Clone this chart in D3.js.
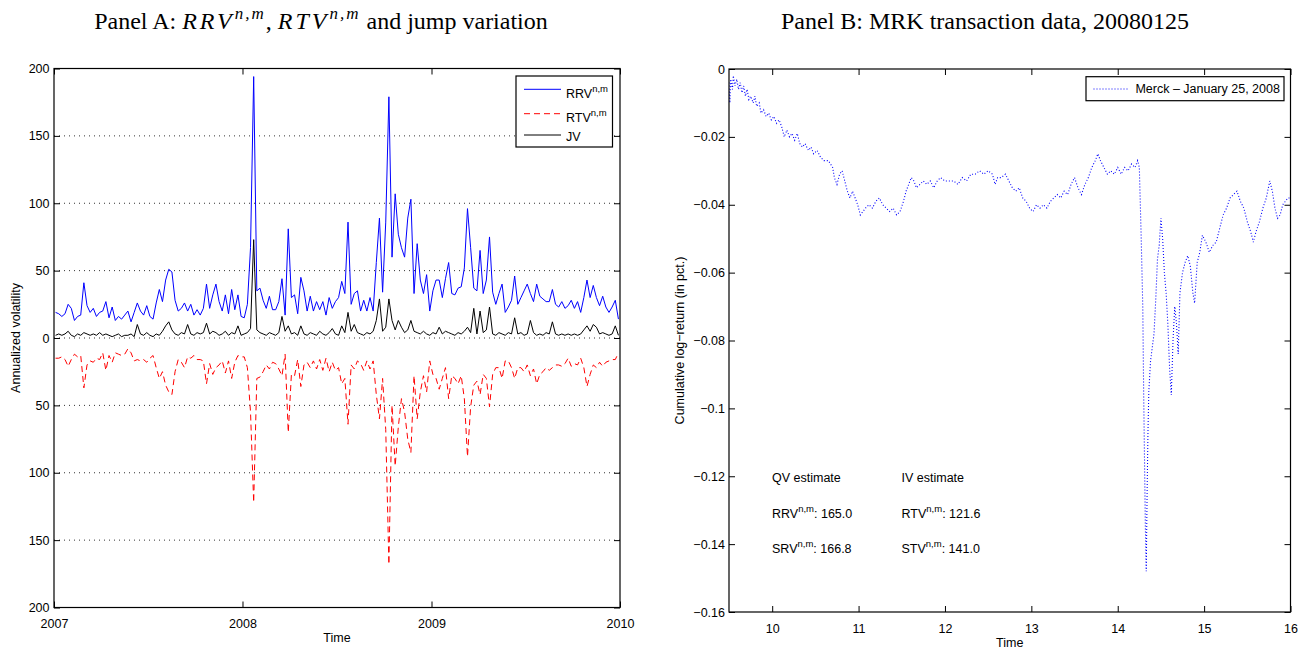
<!DOCTYPE html>
<html><head><meta charset="utf-8">
<script src="https://cdn.jsdelivr.net/npm/d3@7"></script>
<style>
html,body{margin:0;padding:0;background:#fff;}
svg{display:block;}
.sans{font-family:"Liberation Sans",Arial,Helvetica,sans-serif;}
</style></head><body>
<svg id="chart" width="1307" height="656"></svg>
<script>
// ---------- Panel A data (samples evenly spaced over 2007-2009) ----------
const rrv = [19,18,16,18,25,22,13,16,17,41,
 24,19,22,16,19,20,27,15,23,13,
 16,14,17,20,12,19,26,20,17,24,
 16,14,26,36,27,43,51,49,28,20,
 22,26,20,25,17,21,17,22,40,22,
 32,40,27,20,32,18,36,21,32,16,
 15,25,67,194,35,37,28,22,31,21,
 21,27,44,17,81,30,32,18,45,35,
 20,31,20,27,21,27,17,30,22,27,
 30,42,33,86,25,33,35,20,28,20,
 30,20,56,89,34,86,179,60,107,77,
 67,60,89,103,33,70,43,33,47,20,
 35,43,43,30,44,56,33,32,37,38,
 52,96,67,37,35,65,33,43,75,34,
 25,33,40,19,23,28,46,25,30,35,
 40,33,27,40,31,29,27,27,36,25,
 23,27,22,24,28,22,27,19,30,43,
 30,39,30,24,31,23,19,23,28,14];
const rtv = [15,15,14,16,21,16,12,14,13,37,
 20,17,18,15,16,11,24,13,18,11,
 12,13,12,8,11,17,16,17,16,18,
 15,13,22,30,25,35,40,42,25,16,
 18,22,14,15,13,16,16,17,34,19,
 27,22,20,17,26,17,30,18,13,14,
 14,22,55,122,30,29,25,20,23,18,
 19,23,28,12,70,27,28,16,36,20,
 18,22,17,23,16,24,15,25,18,24,
 22,34,30,64,20,23,17,19,24,17,
 23,17,42,60,30,68,168,50,95,66,
 45,55,75,85,28,60,40,28,40,17,
 27,30,38,30,22,45,28,30,34,28,
 45,88,51,35,32,42,27,30,51,27,
 22,22,30,17,17,22,30,22,22,25,
 20,28,23,34,27,25,22,24,22,20,
 20,21,19,15,21,19,20,15,22,36,
 27,20,22,18,21,18,17,16,16,11];
const jv = [2,3,2,3,5,2,1,3,2,4,
 3,2,3,2,4,2,3,2,1,2,
 3,1,2,2,3,1,10,3,2,4,
 2,1,3,2,5,9,12,6,3,2,
 4,3,10,3,2,4,3,4,11,3,
 5,4,2,3,5,2,4,3,9,2,
 3,4,7,73,6,4,3,2,4,3,
 2,4,16,5,9,3,4,2,9,3,
 2,4,3,2,5,3,2,4,7,3,
 2,9,4,19,5,10,4,3,2,4,
 3,5,13,29,5,8,29,13,6,13,
 8,4,6,13,5,4,3,5,3,2,
 4,3,8,3,5,4,3,2,4,3,
 5,8,4,22,3,20,4,6,23,3,
 2,4,3,2,4,3,15,3,4,2,
 3,13,4,2,3,2,4,3,12,3,
 2,3,2,3,2,3,2,3,6,9,
 5,10,8,3,4,3,2,3,9,2];
const yearTicks = [2007, 2008, 2009, 2010];
const volTicks = [200, 150, 100, 50, 0, -50, -100, -150, -200];
const volGrid = [150, 100, 50, 0, -50, -100, -150];

// ---------- Panel B data ----------
const pbTime = [9.50,9.51,9.52,9.54,9.55,9.57,9.59,9.61,9.63,9.65,9.67,9.69,9.71,9.73,9.75,9.78,9.80,9.82,9.85,9.87,
 9.90,9.93,9.96,9.99,10.02,10.05,10.08,10.11,10.14,10.17,10.20,10.23,10.26,10.29,10.32,10.35,10.38,10.42,10.45,10.48,
 10.52,10.56,10.60,10.65,10.70,10.72,10.75,10.78,10.81,10.84,10.87,10.90,10.93,10.96,10.99,11.02,11.05,11.08,11.12,11.16,
 11.20,11.24,11.28,11.32,11.36,11.40,11.44,11.48,11.52,11.55,11.58,11.61,11.64,11.67,11.71,11.75,11.79,11.83,11.87,11.91,
 11.95,12.00,12.05,12.10,12.15,12.20,12.25,12.30,12.35,12.40,12.45,12.50,12.55,12.58,12.61,12.65,12.70,12.74,12.78,12.82,
 12.86,12.90,12.94,12.98,13.02,13.06,13.10,13.14,13.18,13.22,13.26,13.30,13.34,13.38,13.42,13.46,13.50,13.54,13.58,13.62,
 13.66,13.70,13.74,13.77,13.80,13.84,13.88,13.92,13.96,14.00,14.04,14.08,14.12,14.16,14.20,14.23,14.25,14.27,14.29,14.30,
 14.31,14.32,14.33,14.34,14.35,14.36,14.38,14.40,14.42,14.44,14.46,14.48,14.50,14.52,14.54,14.56,14.58,14.60,14.62,14.64,
 14.66,14.68,14.70,14.72,14.75,14.78,14.81,14.84,14.87,14.89,14.92,14.95,14.98,15.02,15.06,15.10,15.14,15.18,15.22,15.26,
 15.30,15.34,15.38,15.42,15.46,15.50,15.54,15.57,15.60,15.64,15.68,15.72,15.76,15.79,15.82,15.85,15.88,15.91,15.94,15.97,16.00];
const pbReturn = [-0.004,-0.010,-0.003,-0.006,-0.002,-0.005,-0.003,-0.006,-0.004,-0.007,-0.005,-0.008,-0.006,-0.009,-0.008,-0.010,-0.008,-0.011,-0.010,-0.013,
 -0.012,-0.014,-0.013,-0.015,-0.014,-0.016,-0.015,-0.017,-0.020,-0.018,-0.020,-0.019,-0.021,-0.019,-0.022,-0.023,-0.022,-0.024,-0.023,-0.025,
 -0.024,-0.026,-0.027,-0.027,-0.029,-0.032,-0.034,-0.031,-0.030,-0.033,-0.036,-0.038,-0.036,-0.038,-0.040,-0.043,-0.042,-0.041,-0.040,-0.041,
 -0.039,-0.038,-0.040,-0.041,-0.042,-0.041,-0.043,-0.042,-0.039,-0.036,-0.034,-0.032,-0.033,-0.035,-0.034,-0.033,-0.034,-0.033,-0.035,-0.033,
 -0.032,-0.033,-0.033,-0.033,-0.034,-0.032,-0.033,-0.031,-0.031,-0.030,-0.031,-0.030,-0.031,-0.034,-0.032,-0.032,-0.031,-0.033,-0.035,-0.036,
 -0.035,-0.038,-0.039,-0.041,-0.042,-0.040,-0.041,-0.040,-0.041,-0.039,-0.038,-0.037,-0.038,-0.036,-0.037,-0.034,-0.032,-0.035,-0.037,-0.034,
 -0.032,-0.029,-0.027,-0.025,-0.027,-0.029,-0.031,-0.030,-0.031,-0.029,-0.031,-0.029,-0.030,-0.028,-0.029,-0.027,-0.029,-0.048,-0.070,-0.095,
 -0.115,-0.135,-0.148,-0.125,-0.107,-0.095,-0.086,-0.082,-0.078,-0.068,-0.056,-0.052,-0.044,-0.050,-0.060,-0.066,-0.075,-0.088,-0.096,-0.080,
 -0.070,-0.075,-0.084,-0.066,-0.060,-0.057,-0.055,-0.058,-0.066,-0.069,-0.057,-0.054,-0.049,-0.051,-0.054,-0.052,-0.051,-0.047,-0.043,-0.041,
 -0.038,-0.037,-0.036,-0.039,-0.041,-0.045,-0.048,-0.051,-0.048,-0.045,-0.041,-0.038,-0.033,-0.036,-0.041,-0.044,-0.043,-0.040,-0.039,-0.038,-0.038];
const pbXTicks = [10, 11, 12, 13, 14, 15, 16];
const pbYTicks = [0, -0.02, -0.04, -0.06, -0.08, -0.1, -0.12, -0.14, -0.16];

const svg = d3.select("#chart");
svg.append("rect").attr("width",1307).attr("height",656).attr("fill","#fff");
const FS = 12.5;
const TICK = 6;

// ================= PANEL A =================
(function(){
  const L=54, R=620, T=68.5, B=607.5;
  const start = new Date(2007,0,1), end = new Date(2010,0,1);
  const frac = d3.scaleLinear().domain([0, rrv.length]).range([+start, +end]);
  const dates = rrv.map((_, i) => new Date(frac(i + 0.5)));
  const x = d3.scaleTime().domain([start, end]).range([L, R]);
  const y = d3.scaleLinear().domain([-200, 200]).range([B, T]);
  const g = svg.append("g").attr("class","sans");

  // grid
  g.selectAll("line.grid").data(volGrid).join("line")
    .attr("x1",L).attr("x2",R).attr("y1",d=>y(d)).attr("y2",d=>y(d))
    .attr("stroke","#333").attr("stroke-width",1).attr("stroke-dasharray","1,4");

  svg.append("clipPath").attr("id","clipA").append("rect")
    .attr("x",L).attr("y",T).attr("width",R-L).attr("height",B-T);
  const plot = g.append("g").attr("clip-path","url(#clipA)");
  const line = d3.line().x((d,i)=>x(dates[i])).y(d=>y(d));
  plot.append("path").datum(rrv).attr("d",line).attr("fill","none").attr("stroke","#0000ff").attr("stroke-width",1);
  plot.append("path").datum(rtv.map(v=>-v)).attr("d",line).attr("fill","none").attr("stroke","#ff0000").attr("stroke-width",1).attr("stroke-dasharray","6,4");
  plot.append("path").datum(jv).attr("d",line).attr("fill","none").attr("stroke","#000").attr("stroke-width",1);

  // axes
  const yearDates = yearTicks.map(yr => new Date(yr,0,1));
  const axL = d3.axisLeft(y).tickValues(volTicks).tickSize(-TICK).tickPadding(4.5).tickFormat(d=>Math.abs(d));
  const axR = d3.axisRight(y).tickValues(volTicks).tickSize(-TICK).tickFormat("");
  const axB = d3.axisBottom(x).tickValues(yearDates).tickSize(-TICK).tickPadding(12).tickFormat(d3.timeFormat("%Y"));
  const axT = d3.axisTop(x).tickValues(yearDates).tickSize(-TICK).tickFormat("");
  [[axL,`translate(${L},0)`],[axR,`translate(${R},0)`],[axB,`translate(0,${B})`],[axT,`translate(0,${T})`]].forEach(([a,t])=>{
    const ag = g.append("g").attr("transform",t).call(a);
    ag.select(".domain").remove();
    ag.selectAll("line").attr("stroke","#000");
    ag.selectAll("text").attr("fill","#000").style("font-size",FS+"px").style("font-family",'"Liberation Sans",Arial,sans-serif');
  });
  g.append("rect").attr("x",L).attr("y",T).attr("width",R-L).attr("height",B-T)
    .attr("fill","none").attr("stroke","#000").attr("stroke-width",1.2);

  // labels
  g.append("text").attr("x",(L+R)/2).attr("y",B+34.5).attr("text-anchor","middle").style("font-size",FS+"px").text("Time");
  g.append("text").attr("transform",`translate(19.5,${(T+B)/2}) rotate(-90)`).attr("text-anchor","middle").style("font-size",FS+"px").text("Annualized volatility");

  // legend
  const lg = g.append("g");
  lg.append("rect").attr("x",516).attr("y",76).attr("width",96.5).attr("height",71)
    .attr("fill","#fff").attr("stroke","#000").attr("stroke-width",1.2);
  const items = [
    {name:"RRV", sup:"n,m", color:"#0000ff", dash:null, ly:89.3, ty:97.5},
    {name:"RTV", sup:"n,m", color:"#ff0000", dash:"6,4", ly:113.7, ty:122},
    {name:"JV", sup:null, color:"#000", dash:null, ly:135, ty:140.5}
  ];
  items.forEach(it=>{
    lg.append("line").attr("x1",524).attr("x2",561).attr("y1",it.ly).attr("y2",it.ly)
      .attr("stroke",it.color).attr("stroke-width",1).attr("stroke-dasharray",it.dash);
    const t = lg.append("text").attr("x",566).attr("y",it.ty).style("font-size",FS+"px");
    t.append("tspan").text(it.name);
    if(it.sup) t.append("tspan").attr("dy",-6).style("font-size","9.5px").text(it.sup);
  });
})();

// ================= PANEL B =================
(function(){
  const L=729, R=1290.5, T=69, B=612;
  const x = d3.scaleLinear().domain([9.5,16]).range([L,R]);
  const y = d3.scaleLinear().domain([-0.16,0]).range([B,T]);
  const g = svg.append("g").attr("class","sans");
  svg.append("clipPath").attr("id","clipB").append("rect")
    .attr("x",L).attr("y",T).attr("width",R-L).attr("height",B-T);
  const line = d3.line().x((d,i)=>x(pbTime[i])).y(d=>y(d));
  g.append("g").attr("clip-path","url(#clipB)").append("path").datum(pbReturn).attr("d",line)
    .attr("fill","none").attr("stroke","#0000ff").attr("stroke-width",1.1).attr("stroke-dasharray","1,2");

  const axL = d3.axisLeft(y).tickValues(pbYTicks).tickSize(-TICK).tickPadding(4).tickFormat(d=> d===0 ? "0" : "\u2212"+d3.format("~g")(Math.abs(d)));
  const axR = d3.axisRight(y).tickValues(pbYTicks).tickSize(-TICK).tickFormat("");
  const axB = d3.axisBottom(x).tickValues(pbXTicks).tickSize(-TICK).tickPadding(12).tickFormat(d3.format("d"));
  const axT = d3.axisTop(x).tickValues(pbXTicks).tickSize(-TICK).tickFormat("");
  [[axL,`translate(${L},0)`],[axR,`translate(${R},0)`],[axB,`translate(0,${B})`],[axT,`translate(0,${T})`]].forEach(([a,t])=>{
    const ag = g.append("g").attr("transform",t).call(a);
    ag.select(".domain").remove();
    ag.selectAll("line").attr("stroke","#000");
    ag.selectAll("text").attr("fill","#000").style("font-size",FS+"px").style("font-family",'"Liberation Sans",Arial,sans-serif');
  });
  g.append("rect").attr("x",L).attr("y",T).attr("width",R-L).attr("height",B-T)
    .attr("fill","none").attr("stroke","#000").attr("stroke-width",1.2);

  g.append("text").attr("x",(L+R)/2).attr("y",B+35).attr("text-anchor","middle").style("font-size",FS+"px").text("Time");
  g.append("text").attr("transform",`translate(684,${(T+B)/2}) rotate(-90)`).attr("text-anchor","middle").style("font-size",FS+"px").text("Cumulative log\u2212return (in pct.)");

  // legend
  g.append("rect").attr("x",1086).attr("y",76.7).attr("width",198).attr("height",24)
    .attr("fill","#fff").attr("stroke","#000").attr("stroke-width",1.2);
  g.append("line").attr("x1",1093.5).attr("x2",1129).attr("y1",89).attr("y2",89)
    .attr("stroke","#0000ff").attr("stroke-width",1).attr("stroke-dasharray","1,2");
  g.append("text").attr("x",1135.4).attr("y",93).style("font-size",FS+"px").text("Merck \u2013 January 25, 2008");

  // annotations
  const ann = [
    {x:772, y:481.5, name:"QV estimate", sup:null, rest:""},
    {x:901.5, y:481.5, name:"IV estimate", sup:null, rest:""},
    {x:772, y:518, name:"RRV", sup:"n,m", rest:": 165.0"},
    {x:901.5, y:518, name:"RTV", sup:"n,m", rest:": 121.6"},
    {x:772, y:552.5, name:"SRV", sup:"n,m", rest:": 166.8"},
    {x:901.5, y:552.5, name:"STV", sup:"n,m", rest:": 141.0"}
  ];
  ann.forEach(a=>{
    const t = g.append("text").attr("x",a.x).attr("y",a.y).style("font-size",FS+"px");
    t.append("tspan").text(a.name);
    if(a.sup){
      t.append("tspan").attr("dy",-6).style("font-size","9.5px").text(a.sup);
      t.append("tspan").attr("dy",6).text(a.rest);
    }
  });
})();

// ================= TITLES =================
const serif = '"Liberation Serif","Times New Roman",Times,serif';
const tA = svg.append("text").attr("x",321).attr("y",29).attr("text-anchor","middle")
  .style("font-family",serif).style("font-size","24px");
tA.append("tspan").text("Panel A: ");
tA.append("tspan").style("font-style","italic").style("letter-spacing","3px").text("RRV");
tA.append("tspan").attr("dy",-10).style("font-style","italic").style("font-size","17px").style("letter-spacing","2px").text("n,m");
tA.append("tspan").attr("dy",10).text(", ");
tA.append("tspan").style("font-style","italic").style("letter-spacing","3px").text("RTV");
tA.append("tspan").attr("dy",-10).style("font-style","italic").style("font-size","17px").style("letter-spacing","2px").text("n,m");
tA.append("tspan").attr("dy",10).text(" and jump variation");

svg.append("text").attr("x",985).attr("y",29).attr("text-anchor","middle")
  .style("font-family",serif).style("font-size","24px").text("Panel B: MRK transaction data, 20080125");
</script>
</body></html>
